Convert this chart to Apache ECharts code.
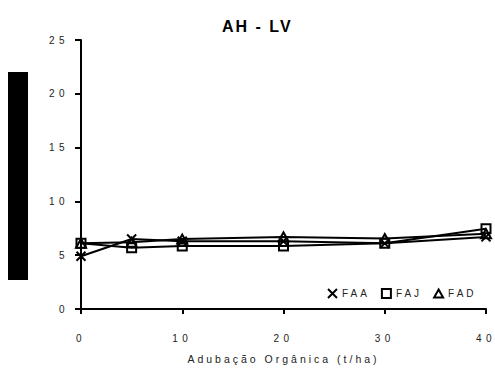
<!DOCTYPE html>
<html>
<head>
<meta charset="utf-8">
<script src="https://cdn.jsdelivr.net/npm/echarts@6/dist/echarts.min.js"></script>
<style>
  html, body { margin: 0; padding: 0; background: #fff; }
  #chart { width: 495px; height: 369px; }
  /* spaced lettering for chart text */
  #chart text { letter-spacing: 3px; }
</style>
</head>
<body>
<div id="chart"></div>
<script>
// Organic fertilisation doses (t/ha)
const doses = [0, 5, 10, 20, 30, 40];
// Series values
const faa = [4.9, 6.5, 6.3, 6.3, 6.1, 6.7];
const faj = [6.1, 5.7, 5.85, 5.85, 6.1, 7.45];
const fad = [6.1, 6.2, 6.5, 6.7, 6.55, 7.0];

const seriesNames = ['FAA', 'FAJ', 'FAD'];
const yTicks = [0, 5, 10, 15, 20, 25];
const xTicks = [0, 10, 20, 30, 40];
const titleText = 'AH - LV';

const crossIcon = 'path://M0,0L10,10M10,0L0,10';
const squareIcon = 'path://M0,0H10V10H0Z';
const triangleIcon = 'path://M5,0L10,9H0Z';

function pairs(vals) { return doses.map((d, i) => [d, vals[i]]); }

function lineSeries(name, vals, icon, size) {
  return {
    name: name,
    type: 'line',
    data: pairs(vals),
    symbol: icon,
    symbolSize: size,
    lineStyle: { color: '#000', width: 2 },
    itemStyle: { color: 'transparent', borderColor: '#000', borderWidth: 2 },
    emphasis: { disabled: true },
    animation: false
  };
}

const font = 'Liberation Sans, Arial, sans-serif';
const chart = echarts.init(document.getElementById('chart'), null, { renderer: 'svg' });
chart.setOption({
  backgroundColor: '#fff',
  animation: false,
  title: {
    text: titleText,
    left: 217,
    top: 13,
    textStyle: { fontFamily: font, fontSize: 16, fontWeight: 'bold', color: '#000' }
  },
  graphic: [{
    type: 'rect',
    left: 8, top: 72,
    shape: { width: 20, height: 208 },
    style: { fill: '#000' }
  }],
  legend: {
    left: 322,
    top: 283,
    itemWidth: 9,
    itemHeight: 9,
    itemGap: 20,
    data: [
      { name: seriesNames[0], icon: crossIcon },
      { name: seriesNames[1], icon: squareIcon },
      { name: seriesNames[2], icon: triangleIcon }
    ],
    itemStyle: { color: 'transparent', borderColor: '#000', borderWidth: 2 },
    textStyle: { fontFamily: font, fontSize: 10, color: '#222' }
  },
  grid: { left: 81, right: 9, top: 40, bottom: 56, containLabel: false },
  xAxis: {
    type: 'value',
    min: xTicks[0],
    max: xTicks[xTicks.length - 1],
    interval: 10,
    name: 'Adubação Orgânica (t/ha)',
    nameLocation: 'middle',
    nameGap: 44,
    nameTextStyle: { fontFamily: font, fontSize: 10.5, color: '#222' },
    axisLine: { lineStyle: { color: '#000', width: 2 } },
    axisTick: { show: true, length: 5, lineStyle: { color: '#000', width: 2 } },
    axisLabel: { margin: 24, fontFamily: font, fontSize: 10, color: '#222' },
    splitLine: { show: false }
  },
  yAxis: {
    type: 'value',
    min: yTicks[0],
    max: yTicks[yTicks.length - 1],
    interval: 5,
    axisLine: { show: true, lineStyle: { color: '#000', width: 2 } },
    axisTick: { show: true, length: 6, lineStyle: { color: '#000', width: 2 } },
    axisLabel: { margin: 12, fontFamily: font, fontSize: 10, color: '#222' },
    splitLine: { show: false }
  },
  series: [
    lineSeries(seriesNames[0], faa, crossIcon, 9),
    lineSeries(seriesNames[1], faj, squareIcon, 9),
    lineSeries(seriesNames[2], fad, triangleIcon, [10, 9])
  ]
});

// tighter lettering for the bold title, wider for the numeric tick labels
document.querySelectorAll('#chart text').forEach(function (t) {
  const s = t.textContent;
  if (s === titleText) t.style.letterSpacing = '2px';
  else if (/^\d+$/.test(s)) t.style.letterSpacing = '4.5px';
});
</script>
</body>
</html>
